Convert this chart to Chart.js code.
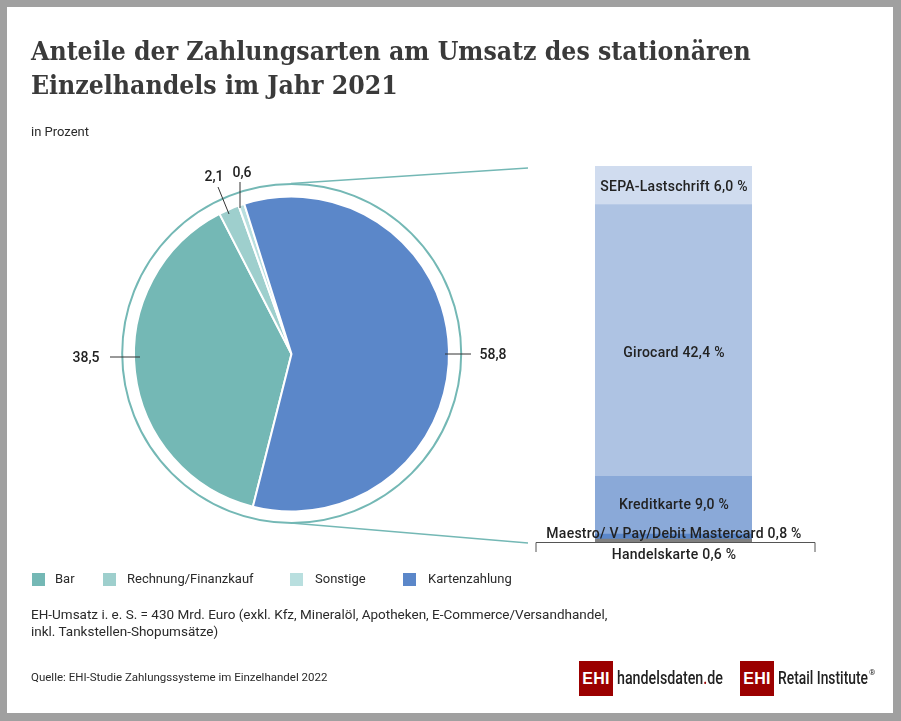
<!DOCTYPE html>
<html lang="de"><head><meta charset="utf-8">
<script src="https://cdn.jsdelivr.net/npm/chart.js@4"></script>
<style>
html,body{margin:0;padding:0;background:#fff}
#page{position:relative;width:901px;height:721px;overflow:hidden;background:#a0a0a0}
#inner{position:absolute;left:7px;top:7px;width:886px;height:706px;background:#fff}
canvas{position:absolute;left:0;top:0}
.t{position:absolute;white-space:nowrap;font-family:Roboto,sans-serif;color:#2a2a2a}
.title{font-family:"DejaVu Serif Condensed","DejaVu Serif",serif;font-weight:700;font-size:26.35px;line-height:34px;color:#3a3a3a}
.small{font-size:13px;line-height:18px}
.note{font-size:13.5px;line-height:18px}
.sw{position:absolute;width:13px;height:13px}
.logo{position:absolute;background:#9b0000;color:#fff;font:700 16px "Liberation Sans",sans-serif;width:34px;height:35px;line-height:36px;text-align:center;letter-spacing:.2px}
.brand{font-family:Roboto,sans-serif;font-size:18px;line-height:24px;color:#222;transform-origin:0 50%}
</style></head><body>
<div id="page"><div id="inner"></div>
<canvas id="pie" width="901" height="721" style="width:901px;height:721px"></canvas>
<canvas id="bar" width="901" height="721" style="width:901px;height:721px"></canvas>
<div class="t title" style="left:31px;top:34px">Anteile der Zahlungsarten am Umsatz des stationären</div>
<div class="t title" style="left:31px;top:68px">Einzelhandels im Jahr 2021</div>
<div class="t small" style="left:31px;top:123px">in Prozent</div>
<div id="legend"></div>
<div class="t note" style="left:31px;top:605px">EH-Umsatz i. e. S. = 430 Mrd. Euro (exkl. Kfz, Mineralöl, Apotheken, E-Commerce/Versandhandel,</div>
<div class="t note" style="left:31px;top:622px">inkl. Tankstellen-Shopumsätze)</div>
<div class="t" style="left:31px;top:669px;font-size:11.5px;line-height:16px">Quelle: EHI-Studie Zahlungssysteme im Einzelhandel 2022</div>
<div class="logo" style="left:579px;top:661px">EHI</div>
<div class="t brand" data-w="106" style="left:617px;top:666px;font-weight:500">handelsdaten<span style="color:#9b0000">.</span>de</div>
<div class="logo" style="left:740px;top:661px">EHI</div>
<div class="t brand" data-w="90" style="left:778px;top:666px;font-weight:500">Retail Institute</div>
<div class="t" style="left:869px;top:668px;font-size:8px;line-height:10px">®</div>
</div>
<script>
const pieCategories=['Bar','Rechnung/Finanzkauf','Sonstige','Kartenzahlung'];
const pieValues=[38.5,2.1,0.6,58.8];
const pieColors=['#74b8b5','#9ecfcd','#b9dfdf','#5b87c9'];
const stackCategories=['Handelskarte','Maestro/ V Pay/Debit Mastercard','Kreditkarte','Girocard','SEPA-Lastschrift'];
const stackValues=[0.6,0.8,9.0,42.4,6.0];
const stackColors=['#808080','#5b87c9','#8aa9d8','#aec3e3','#d0dcef'];
const fmt=v=>v.toFixed(1).replace('.',',');
const LABEL_FONT='500 14px Roboto, sans-serif';
const TEAL='#74b8b5', INK='#222';

document.querySelectorAll('.brand').forEach(el=>{
 el.style.transform=`scaleX(${el.dataset.w/el.getBoundingClientRect().width})`;});

const legendX=[[32,55],[103,127],[290,315],[403,428]];
document.getElementById('legend').innerHTML=pieCategories.map((c,i)=>
 `<div class="sw" style="left:${legendX[i][0]}px;top:573px;background:${pieColors[i]}"></div>`+
 `<div class="t small" style="left:${legendX[i][1]}px;top:570px">${c}</div>`).join('');

const line=(ctx,pts,color,w)=>{ctx.save();ctx.strokeStyle=color;ctx.lineWidth=w;ctx.beginPath();
 pts.forEach((p,i)=>i?ctx.lineTo(p[0],p[1]):ctx.moveTo(p[0],p[1]));ctx.stroke();ctx.restore();};
const text=(ctx,s,x,y,spacing)=>{ctx.save();ctx.font=LABEL_FONT;ctx.fillStyle=INK;ctx.textAlign='center';ctx.textBaseline='middle';
 ctx.letterSpacing=(spacing||0)+'px';ctx.fillText(s,x,y);ctx.restore();};

const pieDecor={id:'pieDecor',afterDatasetsDraw(chart){
 const ctx=chart.ctx,a=chart.getDatasetMeta(0).data[0],r=a.outerRadius,R=r+12;
 const cx=a.x-0.5,cy=a.y-1;
 ctx.save();ctx.strokeStyle=TEAL;ctx.lineWidth=2;ctx.beginPath();ctx.arc(cx+0.7,cy+0.5,R,0,2*Math.PI);ctx.stroke();ctx.restore();
 const left=595-67, top=166+2, bottom=542+1;
 line(ctx,[[cx,cy-R],[left,top]],TEAL,1.6);
 line(ctx,[[cx,cy+R+0.5],[left,bottom]],TEAL,1.6);
 line(ctx,[[cx-181,cy+4],[cx-151,cy+4]],'#333',1);
 line(ctx,[[cx+154,cy+1],[cx+180,cy+1]],'#333',1);
 line(ctx,[[cx-73,cy-166],[cx-62,cy-139]],'#333',1);
 line(ctx,[[cx-51,cy-171],[cx-51,cy-145]],'#333',1);
 text(ctx,fmt(pieValues[0]),cx-205,cy+5);
 text(ctx,fmt(pieValues[1]),cx-77,cy-176);
 text(ctx,fmt(pieValues[2]),cx-49,cy-180);
 text(ctx,fmt(pieValues[3]),cx+202,cy+2);
}};

// per-label vertical nudges, bottom segment to top segment
const labelNudge=[14.5,-2.5,0.5,13,2];
const barDecor={id:'barDecor',afterDatasetsDraw(chart){
 const ctx=chart.ctx,ca=chart.chartArea,mid=(ca.left+ca.right)/2,y=chart.scales.y;
 let base=0;
 stackValues.forEach((v,i)=>{
  const c=y.getPixelForValue(base+v/2);base+=v;
  text(ctx,`${stackCategories[i]} ${fmt(v)} %`,mid+0.5,c+labelNudge[i],0.25);
 });
 const by=ca.bottom-1;
 line(ctx,[[ca.left-59,by+10],[ca.left-59,by+0.5],[ca.right+63,by+0.5],[ca.right+63,by+10]],'#555',1);
}};

new Chart(document.getElementById('pie'),{type:'pie',
 data:{labels:pieCategories,datasets:[{data:pieValues,backgroundColor:pieColors,borderColor:'#fff',borderWidth:2}]},
 options:{responsive:false,animation:false,rotation:194.2,
  layout:{padding:{left:133,right:451,top:195,bottom:208}},
  plugins:{legend:{display:false},tooltip:{enabled:false}}},
 plugins:[pieDecor]});

new Chart(document.getElementById('bar'),{type:'bar',
 data:{labels:['Kartenzahlung'],datasets:stackCategories.map((c,i)=>({label:c,data:[stackValues[i]],backgroundColor:stackColors[i],borderWidth:0,barPercentage:1,categoryPercentage:1}))},
 options:{responsive:false,animation:false,
  layout:{padding:{left:595,right:149,top:166,bottom:178}},
  scales:{x:{stacked:true,display:false},y:{stacked:true,display:false,min:0,max:58.8}},
  plugins:{legend:{display:false},tooltip:{enabled:false}}},
 plugins:[barDecor]});
</script></body></html>
